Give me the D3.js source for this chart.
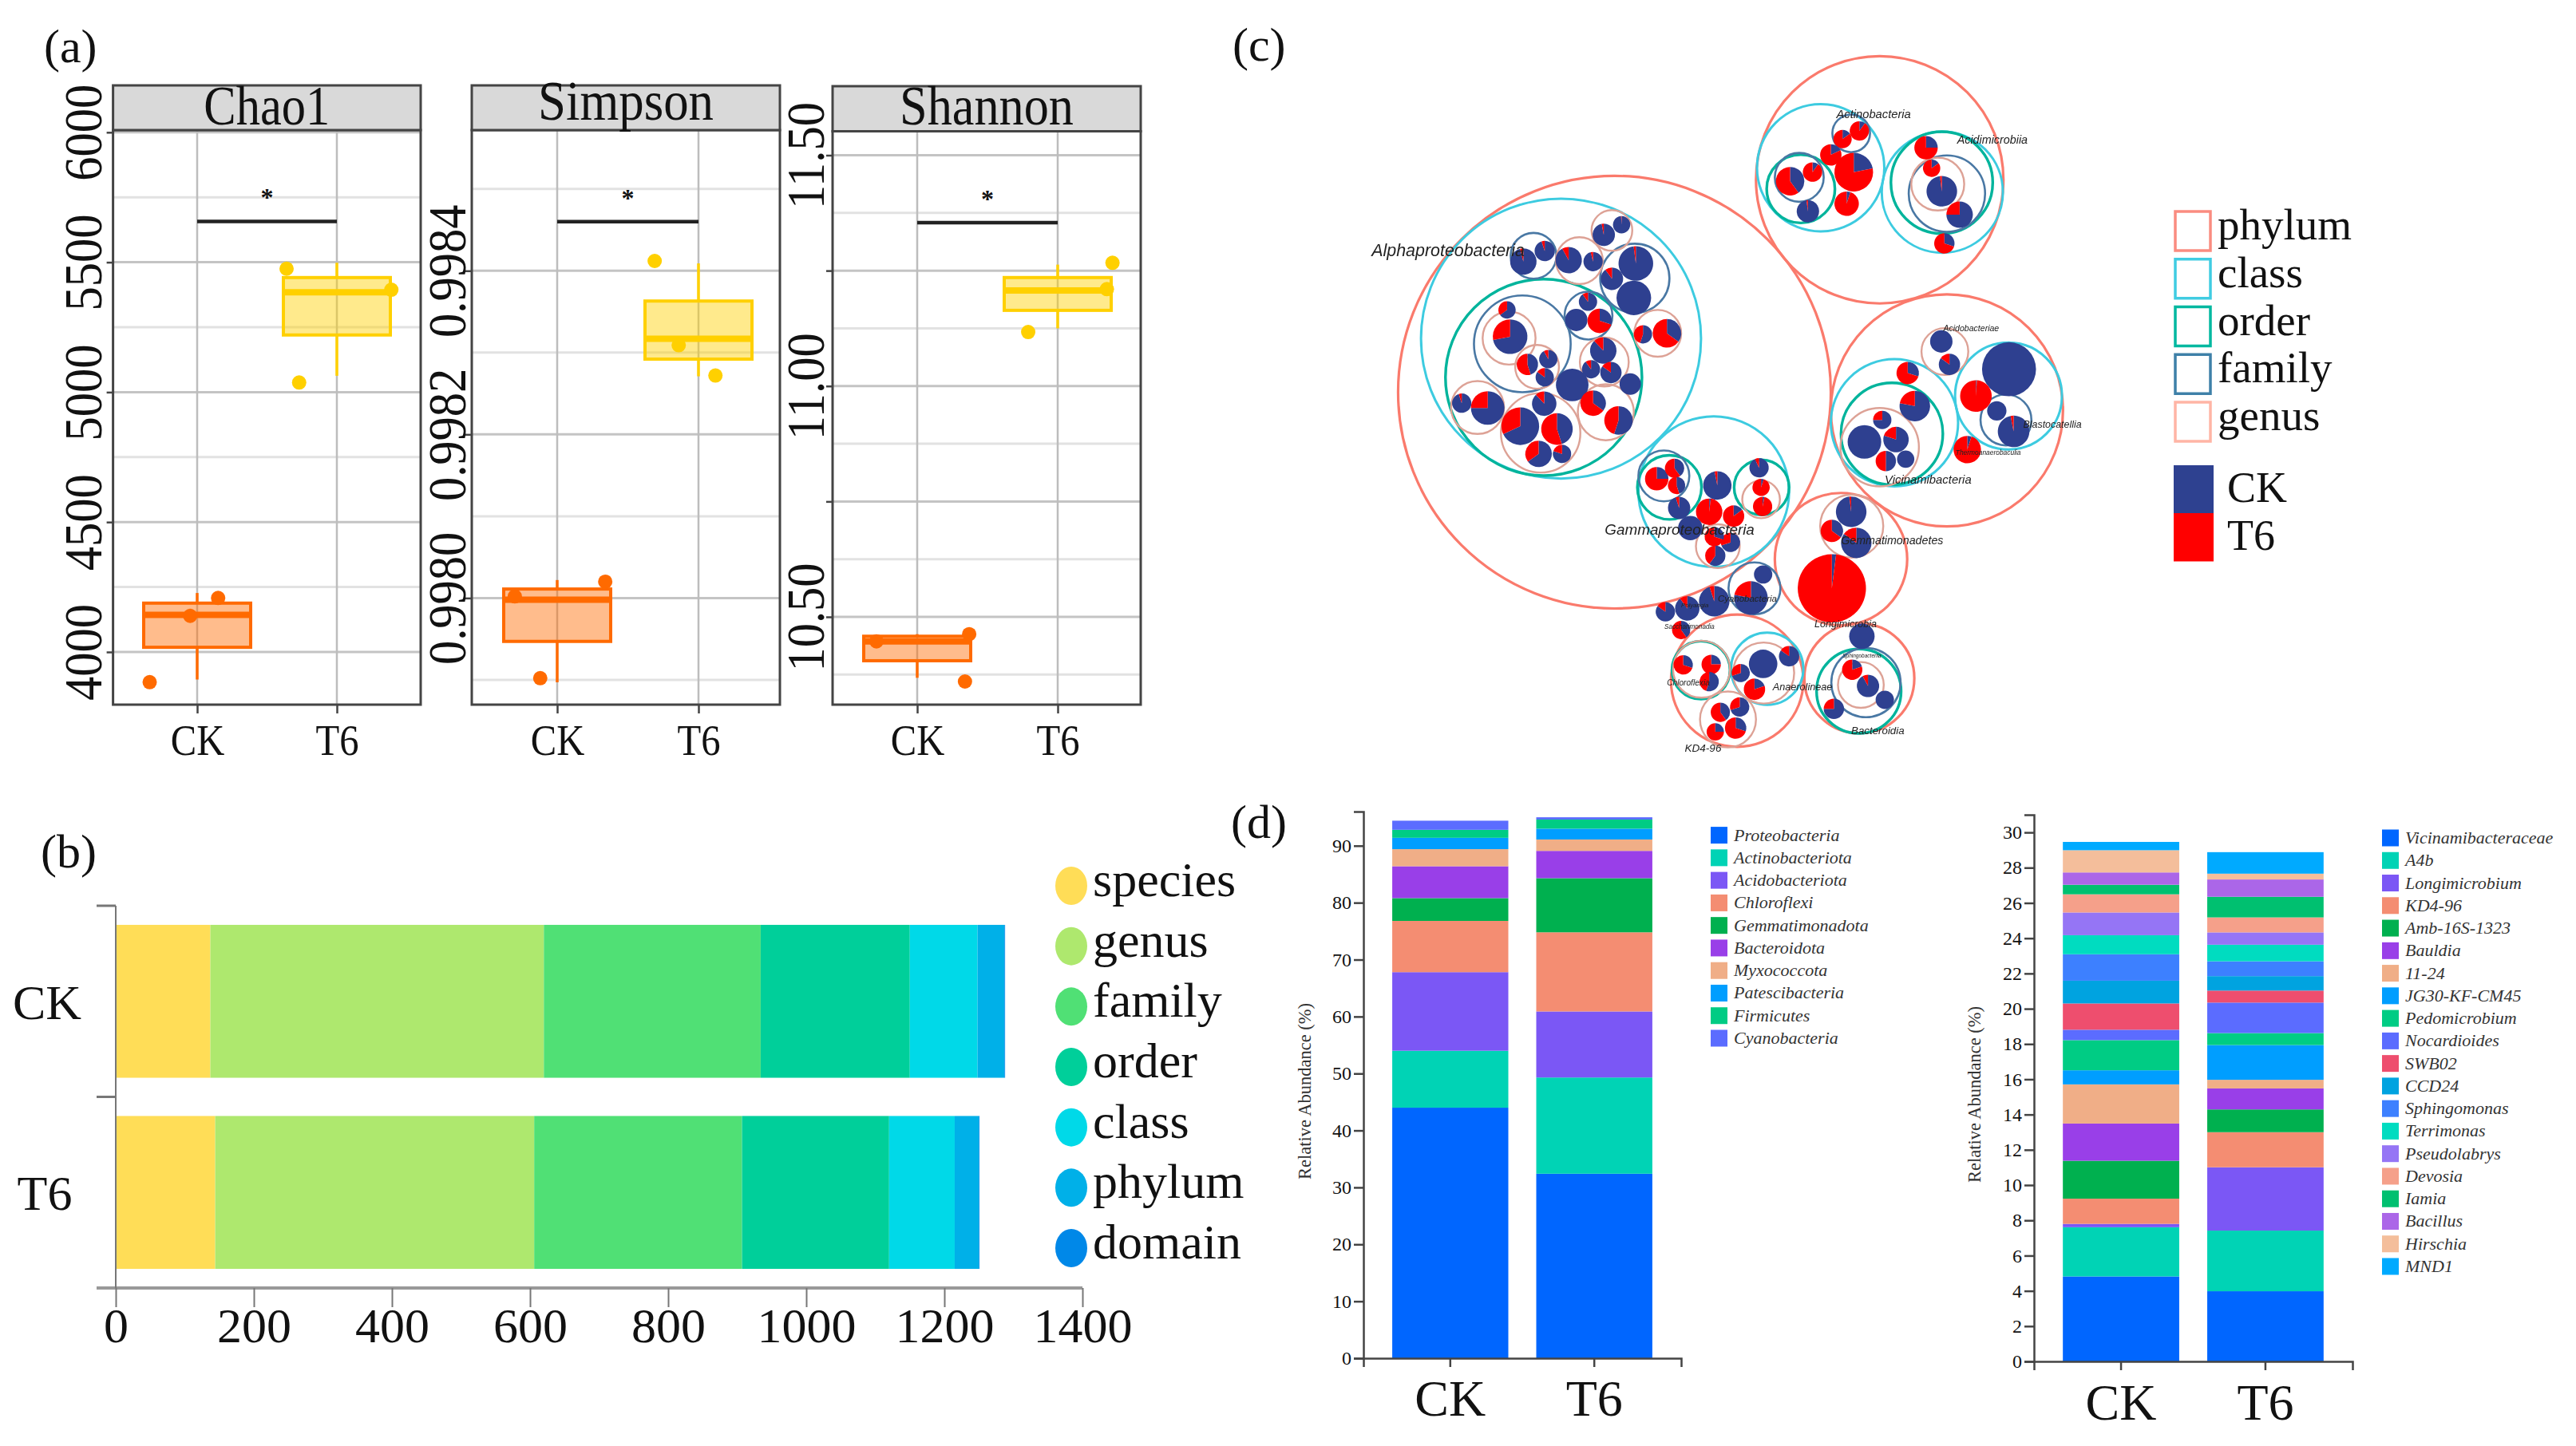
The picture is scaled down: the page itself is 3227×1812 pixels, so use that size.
<!DOCTYPE html>
<html><head><meta charset="utf-8">
<script src="https://cdnjs.cloudflare.com/ajax/libs/d3/7.8.5/d3.min.js"></script>
<style>html,body{margin:0;padding:0;background:#fff}svg{display:block}text{font-family:'Liberation Serif',serif;fill:#111}</style>
</head><body><svg id="c" width="3227" height="1812"></svg>
<script>
// ---------- DATA ----------
const groups = ['CK','T6'];
// panel (a): [whisker low, q1, median, q3, whisker high]
const chao1Box = [[3894,4018,4143,4188,4227],[5063,5220,5384,5441,5498]];
const chao1Pts = [[3884,4139,4208],[5475,5394,5037]];
const chao1Jit = [[-.34,-.05,.15],[-.36,.39,-.27]];
const simpsonBox = [[.997897,.997947,.997998,.998011,.998022],[.998271,.998292,.998317,.998363,.998409]];
const simpsonPts = [[.997902,.998002,.99802],[.998412,.998309,.998272]];
const simpsonJit = [[-.12,-.3,.34],[-.31,-.14,.12]];
const shannonBox = [[10.368,10.405,10.447,10.458,10.4625],[11.125,11.164,11.207,11.235,11.263]];
const shannonPts = [[10.447,10.4625,10.36],[11.267,11.21,11.117]];
const shannonJit = [[-.29,.37,.34],[.39,.35,-.21]];
const chao1Major=[4000,4500,5000,5500,6000], chao1Minor=[4250,4750,5250,5750];
const simpsonMajor=[.998,.9982,.9984], simpsonMinor=[.9979,.9981,.9983,.9985];
const shannonMajor=[10.5,10.75,11,11.25,11.5], shannonMinor=[10.375,10.625,10.875,11.125,11.375];
// panel (b)
const levels = ['species','genus','family','order','class','phylum','domain'];
const levelColors = ['#FFDD57','#AEE86E','#50E075','#00CF9A','#00D9E8','#00B0E8','#0088E8'];
const levelCK = [137,483,314,216,98,39,1];
const levelT6 = [144,462,301,213,95,35,1];
const bTicks = [0,200,400,600,800,1000,1200,1400];
// panel (d) left
const phyla = ['Proteobacteria','Actinobacteriota','Acidobacteriota','Chloroflexi','Gemmatimonadota','Bacteroidota','Myxococcota','Patescibacteria','Firmicutes','Cyanobacteria'];
const phylaCK = [44.0,10.0,13.8,9.0,4.0,5.6,3.0,2.0,1.4,1.6];
const phylaT6 = [32.4,16.9,11.6,13.9,9.5,4.8,2.0,1.9,1.6,0.4];
const phylaColors = ['#0066FF','#00D3B5','#7B57F5','#F48D72','#00B04F','#993FE8','#F0AE87','#009EFF','#00CC84','#5B6CFF'];
// panel (d) right
const genera = ['Vicinamibacteraceae','A4b','Longimicrobium','KD4-96','Amb-16S-1323','Bauldia','11-24','JG30-KF-CM45','Pedomicrobium','Nocardioides','SWB02','CCD24','Sphingomonas','Terrimonas','Pseudolabrys','Devosia','Iamia','Bacillus','Hirschia','MND1'];
const generaCK = [4.82,2.79,.19,1.43,2.15,2.11,2.22,.80,1.71,.59,1.49,1.29,1.50,1.08,1.29,1.03,.54,.70,1.26,.47];
const generaT6 = [3.98,3.44,3.59,1.99,1.29,1.19,.49,1.97,.68,1.73,.68,.82,.84,.94,.70,.85,1.17,.98,.33,1.22];
const generaColors = ['#0066FF','#00D3B5','#7B57F5','#F48D72','#00B04F','#993FE8','#F0AE87','#009EFF','#00CC84','#5B6CFF','#EE4E6E','#00A3E0','#3D80FF','#00DCC0','#9575F5','#F5A08A','#00C070','#AB66E8','#F4BE9B','#00AAFF'];
// panel (c): nested taxon circles, in the plot's own units: [u, v, size]
const phylumNodes = [[537,753,425],[1058,309,243],[1190,791,228],[982,1102,130],[778,1356,130],[1018,1351,108]];
const classNodes = [[432,641,275],[732,961,148],[942,284,125],[1181,335,119],[1087,817,125],[1311,761,105],[837,1331,71]];
const orderNodes = [[398,722,193],[645,952,63],[826,952,54],[903,328,67],[1180,315,100],[1082,840,100],[707,1334,57],[1017,1378,83]];
const familyNodes = [[378,468,45],[577,515,68],[356,652,95],[486,593,47],[634,928,50],[1002,212,37],[900,304,48],[1190,338,75],[1306,811,50],[1031,1360,68],[812,1163,51]];
const genusNodes = [[532,415,40],[468,478,46],[622,630,46],[330,640,52],[385,700,43],[517,690,48],[520,795,55],[268,785,52],[392,838,78],[825,977,37],[740,1075,43],[1172,318,52],[1186,668,46],[1058,868,77],[1003,1033,62],[830,1340,60],[708,1332,56],[760,1437,55],[1021,1365,45]];
// pies: [u, v, size, CK share %]
const pieNodes = [
[400,458,20,95],[358,480,26,96],[516,424,22,97],[551,403,17,99],[447,477,26,92],[495,480,19,96],[579,484,34,98],[532,516,22,90],[575,556,34,100],
[593,632,18,55],[640,630,28,35],[462,602,22,100],[485,564,18,90],[508,604,24,30],[326,581,17,65],[332,637,34,72],[366,695,21,45],[407,684,18,92],[400,722,18,85],
[515,666,26,88],[491,705,18,90],[530,712,21,85],[568,736,21,100],[454,738,32,100],[495,776,25,35],[545,812,28,55],[237,776,19,95],[288,786,33,75],[399,777,24,88],[352,824,37,68],[424,830,31,45],[388,882,26,65],[434,882,18,80],
[620,934,23,25],[655,912,19,40],[659,948,17,45],[664,995,22,95],[739,948,28,97],[723,1003,26,2],[771,1012,21,15],[821,911,19,93],[825,952,17,5],[828,992,19,3],[686,1037,24,100],[765,1067,19,70],[733,1055,19,30],[735,1095,20,60],
[1018,207,19,10],[985,224,18,15],[962,257,21,18],[1007,293,38,22],[993,359,24,5],[882,312,28,40],[926,293,19,10],[917,375,22,98],
[1149,242,23,25],[1160,285,17,15],[1180,333,30,98],[1215,382,26,75],[1185,442,20,30],
[1179,647,22,100],[1195,695,21,85],[1113,713,22,30],[1127,782,30,78],[1028,857,33,100],[1063,811,18,75],[1090,852,25,80],[1070,897,20,50],[1109,893,17,100],[1312,705,53,100],[1247,761,31,1],[1288,792,19,100],[1321,835,31,97],[1230,873,27,5],
[1002,1003,30,98],[964,1043,22,35],[1012,1068,30,85],[964,1163,67,2],
[829,1134,18,100],[805,1183,33,78],[733,1190,30,95],[680,1205,24,90],[637,1212,19,85],[668,1250,18,40],
[672,1323,19,30],[727,1322,19,25],[723,1358,19,55],[880,1305,20,85],[829,1321,28,100],[785,1340,18,70],[812,1374,21,20],[745,1422,19,40],[783,1411,19,70],[775,1455,21,30],[735,1463,17,25],
[1023,1263,25,100],[1004,1333,20,20],[1035,1367,22,92],[1068,1396,18,100],[968,1415,20,75]];
// labels: [name, u start, u end, v]
const taxonLabels = [['Alphaproteobacteria',60,360,461],['Gammaproteobacteria',518,782,1043],['Actinobacteria',973,1125,171],['Acidimicrobiia',1210,1358,226],['Acidobacteriae',1183,1292,617],['Blastocatellia',1340,1468,819],['Vicinamibacteria',1068,1243,935],['Thermoanaerobaculia',1207,1325,876],['Gemmatimonadetes',982,1150,1063],['Longimicrobia',930,1050,1236],['Cyanobacteria',740,850,1183],['Polyangia',668,720,1194],['Saccharimonadia',635,725,1239],['Chloroflexia',640,730,1358],['Anaerolineae',848,960,1367],['Bacteroidia',1002,1110,1460],['Sphingobacteriia',985,1062,1300],['KD4-96',675,735,1497]];
const ringLevels = ['phylum','class','order','family','genus'];
const ringColors = ['#FA8C80','#40CCE2','#00B8A0','#3E80A8','#FFB5A5'];
const nodeColors = ['#FA7A6C','#3CCBE0','#00B49C','#4A78A4','#DDA296'];
const pieColors = ['#2E4190','#FF0000'];

// ---------- HELPERS ----------
const svg = d3.select('#c');
const defs = svg.append('defs');
defs.append('filter').attr('id','soft').append('feGaussianBlur').attr('stdDeviation',.7);
function squeeze(sel,k){ sel.each(function(){ this.setAttribute('textLength',this.getComputedTextLength()*k); this.setAttribute('lengthAdjust','spacingAndGlyphs'); }); return sel; }
function label(t,x,y,size,opts={}){ return svg.append('text').text(t).attr('x',x).attr('y',y).attr('font-size',size).attr('text-anchor',opts.anchor||'start'); }

label('(a)',55,78,60); label('(b)',51,1087,60); label('(c)',1544,76,60); label('(d)',1542,1050,60);

// ---------- PANEL A ----------
const boxColors = [{s:'#FF6A00',f:'#FF6A00',p:'#FF6A00'},{s:'#FFD000',f:'#FFD000',p:'#FFD000'}];
const panelsA = [
 {title:'Chao1',x0:141.6,x1:527,cx:[247,422],y:[4000,817,6000,165.8],box:chao1Box,pts:chao1Pts,jit:chao1Jit,major:chao1Major,minor:chao1Minor,lab:chao1Major,fmt:d3.format('d'),off:14.6,tb:156,sig:[5657],tl:158,strip:[107,163]},
 {title:'Simpson',x0:591,x1:977,cx:[698,875],y:[.998,749.4,.9984,339.3],box:simpsonBox,pts:simpsonPts,jit:simpsonJit,major:simpsonMajor,minor:simpsonMinor,lab:simpsonMajor,fmt:d3.format('.4f'),off:7.7,tb:150,sig:[.99846],tl:220,strip:[107,163]},
 {title:'Shannon',x0:1043,x1:1429,cx:[1149,1325],y:[10.5,773,11.5,194.5],box:shannonBox,pts:shannonPts,jit:shannonJit,major:shannonMajor,minor:shannonMinor,lab:[10.5,11,11.5],fmt:d3.format('.2f'),off:11.4,tb:156,sig:[11.354],tl:218,strip:[108,164.5]}
];
const panelBottom = 883;
panelsA.forEach(p=>{
  const g = svg.append('g');
  const y = d3.scaleLinear().domain([p.y[0],p.y[2]]).range([p.y[1],p.y[3]]);
  const x = d3.scalePoint().domain(groups).range(p.cx);
  const step = p.cx[1]-p.cx[0];
  const top = p.strip[1];
  g.selectAll('.mn').data(p.minor).join('line').attr('x1',p.x0).attr('x2',p.x1).attr('y1',d=>y(d)).attr('y2',d=>y(d)).attr('stroke','#E2E2E2').attr('stroke-width',3);
  g.selectAll('.mj').data(p.major).join('line').attr('x1',p.x0).attr('x2',p.x1).attr('y1',d=>y(d)).attr('y2',d=>y(d)).attr('stroke','#C4C4C4').attr('stroke-width',3);
  g.selectAll('.vg').data(groups).join('line').attr('x1',d=>x(d)).attr('x2',d=>x(d)).attr('y1',top).attr('y2',panelBottom).attr('stroke','#BDBDBD').attr('stroke-width',2.5);
  groups.forEach((gr,i)=>{
    const b=p.box[i], c=boxColors[i], cx=x(gr), hw=67;
    g.append('line').attr('x1',cx).attr('x2',cx).attr('y1',y(b[0])).attr('y2',y(b[1])).attr('stroke',c.s).attr('stroke-width',3.5);
    g.append('line').attr('x1',cx).attr('x2',cx).attr('y1',y(b[3])).attr('y2',y(b[4])).attr('stroke',c.s).attr('stroke-width',3.5);
    g.append('rect').attr('x',cx-hw).attr('width',2*hw).attr('y',y(b[3])).attr('height',y(b[1])-y(b[3])).attr('fill',c.f).attr('fill-opacity',.45).attr('stroke',c.s).attr('stroke-width',4);
    g.append('line').attr('x1',cx-hw).attr('x2',cx+hw).attr('y1',y(b[2])).attr('y2',y(b[2])).attr('stroke',c.s).attr('stroke-width',8);
    g.selectAll('.pt'+i).data(p.pts[i]).join('circle').attr('cx',(d,j)=>cx+p.jit[i][j]*step).attr('cy',d=>y(d)).attr('r',9).attr('fill',c.p);
  });
  g.append('line').attr('x1',x('CK')).attr('x2',x('T6')).attr('y1',y(p.sig[0])).attr('y2',y(p.sig[0])).attr('stroke','#222').attr('stroke-width',4.5);
  g.append('text').text('*').attr('x',(x('CK')+x('T6'))/2).attr('y',y(p.sig[0])-19).attr('text-anchor','middle').attr('font-size',32).attr('font-weight','bold');
  // frame and strip
  g.append('rect').attr('x',p.x0).attr('y',top).attr('width',p.x1-p.x0).attr('height',panelBottom-top).attr('fill','none').attr('stroke','#444').attr('stroke-width',3);
  g.append('rect').attr('x',p.x0).attr('y',p.strip[0]).attr('width',p.x1-p.x0).attr('height',p.strip[1]-p.strip[0]).attr('fill','#D9D9D9').attr('stroke','#444').attr('stroke-width',3);
  const tt=g.append('text').text(p.title).attr('x',(p.x0+p.x1)/2).attr('y',p.tb).attr('text-anchor','middle').attr('font-size',70);
  tt.attr('textLength',p.tl).attr('lengthAdjust','spacingAndGlyphs');
  // axes
  const ya = g.append('g').attr('transform',`translate(${p.x0},0)`).call(d3.axisLeft(y).tickValues(p.major).tickSize(8).tickFormat(d=>p.lab.includes(d)?p.fmt(d):''));
  ya.select('.domain').remove();
  ya.selectAll('line').attr('stroke','#444').attr('stroke-width',2.5);
  const lt=ya.selectAll('text').attr('x',0).attr('dy',0).attr('transform',`translate(${-p.off},0) rotate(-90)`).attr('text-anchor','middle').attr('font-family','Liberation Serif').attr('font-size',68).attr('fill','#111');
  lt.each(function(){ if(this.textContent) { this.setAttribute('textLength',this.getComputedTextLength()*.89); this.setAttribute('lengthAdjust','spacingAndGlyphs'); }});
  const xa = g.append('g').attr('transform',`translate(0,${panelBottom})`).call(d3.axisBottom(x).tickSize(11));
  xa.select('.domain').remove();
  xa.selectAll('line').attr('stroke','#444').attr('stroke-width',2.5);
  xa.selectAll('text').attr('y',0).attr('dy',0).attr('transform','translate(0,63)').attr('font-family','Liberation Serif').attr('font-size',54).attr('fill','#111').call(squeeze,.9);
});

// ---------- PANEL B ----------
(function(){
  const x = d3.scaleLinear().domain([0,1400]).range([145,1356]);
  const y = d3.scaleBand().domain(groups).range([1135,1614]).paddingInner(.2).paddingOuter(.1);
  const g = svg.append('g');
  const stack = d3.stack().keys(levels)(groups.map((gr,i)=>{const o={group:gr};levels.forEach((l,j)=>o[l]=(i?levelT6:levelCK)[j]);return o;}));
  g.selectAll('g.s').data(stack).join('g').attr('fill',(d,i)=>levelColors[i]).selectAll('rect').data(d=>d).join('rect')
    .attr('x',d=>x(d[0])).attr('width',d=>x(d[1])-x(d[0])).attr('y',d=>y(d.data.group)).attr('height',y.bandwidth());
  const xa=g.append('g').attr('transform','translate(0,1614)').call(d3.axisBottom(x).tickValues(bTicks).tickSize(24).tickSizeOuter(0).tickFormat(d3.format('d')));
  xa.select('.domain').attr('stroke','#999').attr('stroke-width',4).attr('d','M121,0H1356');
  xa.selectAll('line').attr('stroke','#777').attr('stroke-width',2);
  xa.selectAll('text').attr('y',0).attr('dy',0).attr('transform','translate(0,68)').attr('font-family','Liberation Serif').attr('font-size',62).attr('fill','#111');
  const ya=g.append('g').attr('transform','translate(145,0)').call(d3.axisLeft(y).tickSize(0));
  ya.select('.domain').attr('stroke','#777').attr('stroke-width',2).attr('d','M0,1135V1614');
  ya.selectAll('text').attr('x',0).attr('dy',0).attr('transform',(d,i)=>`translate(${i?-89:-86},22)`).attr('text-anchor','middle').attr('font-family','Liberation Serif').attr('font-size',62).attr('fill','#111');
  const bounds=[y.range()[0],y.range()[0]+y.step()];
  g.selectAll('.bt').data(bounds).join('line').attr('x1',121).attr('x2',145).attr('y1',d=>d).attr('y2',d=>d).attr('stroke','#777').attr('stroke-width',3);
  const ly=d3.scalePoint().domain(levels).range([1110,1564]);
  g.selectAll('.le').data(levels).join('ellipse').attr('cx',1342).attr('cy',d=>ly(d)).attr('rx',20).attr('ry',24).attr('fill',(d,i)=>levelColors[i]);
  g.selectAll('.lt').data(levels).join('text').text(d=>d).attr('x',1369).attr('y',d=>ly(d)+13).attr('font-size',62);
})();

// ---------- PANEL C ----------
(function(){
  const uToX=d3.scaleLinear().domain([0,1000]).range([1680,1680+1000/1.568]);
  const vToY=d3.scaleLinear().domain([0,1000]).range([40,40+1000/1.668]);
  const size=d3.scaleLinear().domain([0,1000]).range([0,1000/1.568]);
  const g=svg.append('g').attr('filter','url(#soft)');
  const rings=[[phylumNodes,0,3.2],[classNodes,1,3],[orderNodes,2,3.4],[familyNodes,3,2.6],[genusNodes,4,2.4]];
  rings.forEach(([nodes,c,w])=>{
    g.append('g').selectAll('circle').data(nodes).join('circle').attr('cx',d=>uToX(d[0])).attr('cy',d=>vToY(d[1])).attr('r',d=>size(d[2])).attr('fill','none').attr('stroke',nodeColors[c]).attr('stroke-width',w);
  });
  const pie=d3.pie().sort(null), arc=d3.arc().innerRadius(0);
  const pg=g.append('g').selectAll('g').data(pieNodes).join('g').attr('transform',d=>`translate(${uToX(d[0])},${vToY(d[1])})`);
  pg.selectAll('path').data(d=>pie([d[3],100-d[3]]).map(a=>({...a,outerRadius:size(d[2])}))).join('path').attr('d',arc).attr('fill',(d,i)=>pieColors[i]);
  g.append('g').selectAll('text').data(taxonLabels).join('text').text(d=>d[0]).attr('x',d=>uToX(d[1])).attr('y',d=>vToY(d[3])+5)
    .style('font-family','Liberation Sans').attr('font-style','italic').style('fill','#222')
    .attr('font-size',d=>size(d[2]-d[1])/(d[0].length*.47));
  // legend
  const lg=svg.append('g');
  const ry=d3.scalePoint().domain(ringLevels).range([265,504]);
  lg.selectAll('rect.r').data(ringLevels).join('rect').attr('x',2725).attr('y',d=>ry(d)).attr('width',44).attr('height',49).attr('fill','none').attr('stroke',(d,i)=>ringColors[i]).attr('stroke-width',3.5);
  lg.selectAll('text.r').data(ringLevels).join('text').text(d=>d).attr('x',2778).attr('y',d=>ry(d)+35).attr('font-size',55);
  const gy=d3.scalePoint().domain(groups).range([583,643]);
  lg.selectAll('rect.g').data(groups).join('rect').attr('x',2723).attr('y',d=>gy(d)).attr('width',50).attr('height',60.5).attr('fill',(d,i)=>pieColors[i]);
  lg.selectAll('text.g').data(groups).join('text').text(d=>d).attr('x',2790).attr('y',d=>gy(d)+46).attr('font-size',54);
})();

// ---------- PANEL D ----------
function stackedPanel(o){
  const g=svg.append('g');
  const y=d3.scaleLinear().domain(o.dom).range(o.yr);
  const x=d3.scaleBand().domain(groups).range(o.xr).paddingInner(.194).paddingOuter(.2);
  const rows=groups.map((gr,i)=>{const r={group:gr};o.keys.forEach((k,j)=>r[k]=o.vals[i][j]);return r;});
  const st=d3.stack().keys(o.keys)(rows);
  g.selectAll('g.s').data(st).join('g').attr('fill',(d,i)=>o.colors[i]).selectAll('rect').data(d=>d).join('rect')
    .attr('x',d=>x(d.data.group)).attr('width',x.bandwidth()).attr('y',d=>y(d[1])).attr('height',d=>y(d[0])-y(d[1]));
  const ya=g.append('g').attr('transform',`translate(${o.xr[0]},0)`).call(d3.axisLeft(y).tickValues(o.ticks).tickSize(12).tickFormat(d3.format('d')));
  ya.selectAll('line,path').attr('stroke','#444').attr('stroke-width',2.5);
  ya.selectAll('text').attr('font-family','Liberation Serif').attr('font-size',24).attr('fill','#333').attr('x',-15);
  const xa=g.append('g').attr('transform',`translate(0,${o.yr[0]})`).call(d3.axisBottom(x).tickSize(11));
  xa.selectAll('line,path').attr('stroke','#444').attr('stroke-width',2.5);
  xa.selectAll('text').attr('y',0).attr('dy',0).attr('transform',`translate(0,${o.capY})`).attr('font-family','Liberation Serif').attr('font-size',64).attr('fill','#111');
  const tx=o.titleX, ty=(o.yr[0]+o.yr[1])/2+8;
  g.append('text').text('Relative Abundance (%)').attr('transform',`translate(${tx},${ty}) rotate(-90)`).attr('text-anchor','middle').attr('font-size',22.5).style('fill','#333');
  const ly=d3.scalePoint().domain(o.keys).range(o.legY);
  g.selectAll('.sw').data(o.keys).join('rect').attr('x',o.legX).attr('y',d=>ly(d)-10.5).attr('width',21).attr('height',21).attr('fill',(d,i)=>o.colors[i]);
  g.selectAll('.lt').data(o.keys).join('text').text(d=>d).attr('x',o.legX+29).attr('y',d=>ly(d)+7).attr('font-size',22).attr('font-style','italic').style('fill','#333');
}
stackedPanel({keys:phyla,vals:[phylaCK,phylaT6],colors:phylaColors,dom:[0,96],yr:[1702,1017],xr:[1708,2106],ticks:d3.range(0,100,10),capY:72,titleX:1642,legX:2143,legY:[1046.6,1301]});
stackedPanel({keys:genera,vals:[generaCK,generaT6],colors:generaColors,dom:[0,31],yr:[1706,1021],xr:[2548,2947],ticks:d3.range(0,32,2),capY:73,titleX:2481,legX:2984,legY:[1050,1587]});
</script></body></html>
